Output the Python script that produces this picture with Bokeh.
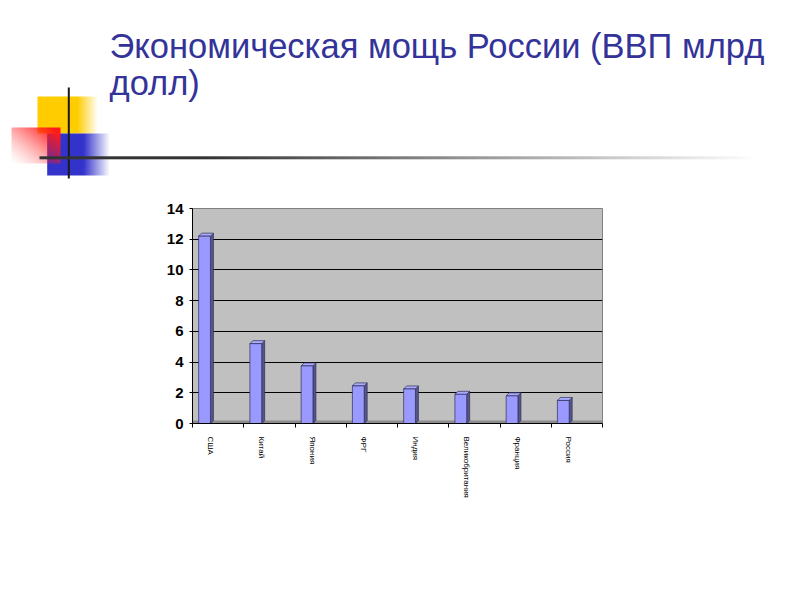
import numpy as np
from bokeh.plotting import figure
from bokeh.layouts import column
from bokeh.models import Range1d, FixedTicker, BoxAnnotation
from bokeh.core.properties import value
from bokeh.embed import file_html
from bokeh.resources import INLINE

# ---- data ----
countries = ["США", "Китай", "Япония", "ФРГ", "Индия", "Великобритания", "Франция", "Россия"]
gdp = [12.2, 5.2, 3.75, 2.45, 2.25, 1.9, 1.8, 1.5]
y_ticks = [0, 2, 4, 6, 8, 10, 12, 14]
title_lines = ["Экономическая мощь России (ВВП млрд", "долл)"]

# ---- header (title + slide decoration), data units = pixels ----
H = 193
header = figure(width=784, height=H, x_range=Range1d(0, 784), y_range=Range1d(0, H),
                output_backend="svg", toolbar_location=None, min_border=0, frame_align=False)
header.axis.visible = False
header.grid.visible = False
header.outline_line_color = None

def Y(py):
    return H - py

def rgba_img(rgb, alpha):
    h, w = alpha.shape
    img = np.zeros((h, w), dtype=np.uint32)
    vw = img.view(dtype=np.uint8).reshape((h, w, 4))
    vw[:, :, 0], vw[:, :, 1], vw[:, :, 2] = rgb
    vw[:, :, 3] = (np.clip(alpha, 0, 1) * 255).astype(np.uint8)
    return img

def hfade(x0, xs, x1, y0, y1, rgb):
    # solid from x0 to xs, then fade out to x1 (page pixels)
    n = int(round(x1 - x0))
    xx = np.linspace(x0, x1, n)
    al = np.clip((x1 - xx) / (x1 - xs), 0, 1)
    alpha = np.tile(al, (int(round(y1 - y0)), 1))
    header.image_rgba(image=[rgba_img(rgb, alpha)], x=x0, y=Y(y1), dw=x1 - x0, dh=y1 - y0)

hfade(37, 77, 98, 96, 133, (255, 204, 0))
hfade(46.7, 83, 110, 133, 175, (51, 51, 204))
rw, rh = 49, 36
u = np.linspace(0, 1, rw)[None, :]
v = np.linspace(0, 1, rh)[:, None]
a = np.clip(0.05 + 0.55 * u + 0.5 * v, 0, 1) ** 1.5
header.image_rgba(image=[rgba_img((255, 26, 26), a)], x=11, y=Y(163), dw=rw, dh=rh)
header.segment(x0=68.3, y0=Y(87), x1=68.3, y1=Y(178), line_color="#1a1a1a", line_width=2)
# fading horizontal rule
n = 721
xx = np.linspace(0, 1, n)
rule_alpha = np.tile(np.clip(1.3 * (1 - xx), 0, 1), (3, 1))
header.image_rgba(image=[rgba_img((51, 51, 51), rule_alpha)], x=39, y=Y(158.8), dw=721, dh=3)
header.text(x=[109, 109], y=[Y(45.7), Y(82.3)], text=title_lines, text_color="#333399",
            text_font=value("Liberation Sans"), text_font_size=value("34.5px"),
            text_baseline="alphabetic", text_align="left")

# ---- chart ----
chart = figure(width=784, height=391, x_range=Range1d(0, len(countries)), y_range=Range1d(0, 14),
               output_backend="svg", toolbar_location=None, frame_align=False,
               min_border_left=192, min_border_right=182, min_border_top=15, min_border_bottom=161)
chart.background_fill_color = "#C0C0C0"
chart.border_fill_color = "white"
chart.outline_line_color = "#808080"
chart.xgrid.visible = False
chart.ygrid.ticker = FixedTicker(ticks=y_ticks[1:-1])
chart.ygrid.grid_line_color = "black"
chart.ygrid.grid_line_width = 1

chart.add_layout(BoxAnnotation(bottom=0, top=0.19, fill_color="#8C8C8C", fill_alpha=1,
                               line_color=None, level="underlay"))

idx = np.arange(len(countries))
w = 0.23
xc = idx + 0.235
dx, dy = 0.058, 0.195
vals = np.array(gdp)
chart.patches(xs=[[x + w / 2, x + w / 2 + dx, x + w / 2 + dx, x + w / 2] for x in xc],
              ys=[[0, dy, v + dy, v] for v in vals],
              fill_color="#55558C", line_color="#2E2E55", line_width=0.7)
chart.patches(xs=[[x - w / 2, x - w / 2 + dx, x + w / 2 + dx, x + w / 2] for x in xc],
              ys=[[v, v + dy, v + dy, v] for v in vals],
              fill_color="#AAAAFF", line_color="#2E2E55", line_width=0.7)
chart.vbar(x=xc, top=vals, width=w, bottom=0, fill_color="#9999FF",
           line_color="#2E2E55", line_width=0.7)

chart.yaxis.ticker = FixedTicker(ticks=y_ticks)
chart.yaxis.axis_line_color = "black"
chart.yaxis.major_tick_line_color = "black"
chart.yaxis.major_tick_out = 3
chart.yaxis.major_tick_in = 0
chart.yaxis.minor_tick_line_color = None
chart.yaxis.major_label_text_font = "Liberation Sans"
chart.yaxis.major_label_text_font_size = "15px"
chart.yaxis.major_label_text_font_style = "bold"
chart.yaxis.major_label_text_color = "black"
chart.yaxis.major_label_standoff = 6

label_pos = [i + 0.34375 for i in range(len(countries))]
chart.xaxis.ticker = FixedTicker(ticks=label_pos, minor_ticks=list(range(len(countries) + 1)))
chart.xaxis.major_label_overrides = {q: c for q, c in zip(label_pos, countries)}
chart.xaxis.major_tick_out = 0
chart.xaxis.major_tick_in = 0
chart.xaxis.minor_tick_out = 4
chart.xaxis.minor_tick_in = 0
chart.xaxis.minor_tick_line_color = "black"
chart.xaxis.axis_line_color = "black"
chart.xaxis.major_label_orientation = -np.pi / 2
chart.xaxis.major_label_text_font = "Liberation Sans"
chart.xaxis.major_label_text_font_size = "8px"
chart.xaxis.major_label_text_color = "black"
chart.xaxis.major_label_standoff = 9

layout = column(header, chart, spacing=0)
open("out.html", "w").write(file_html(layout, INLINE))
